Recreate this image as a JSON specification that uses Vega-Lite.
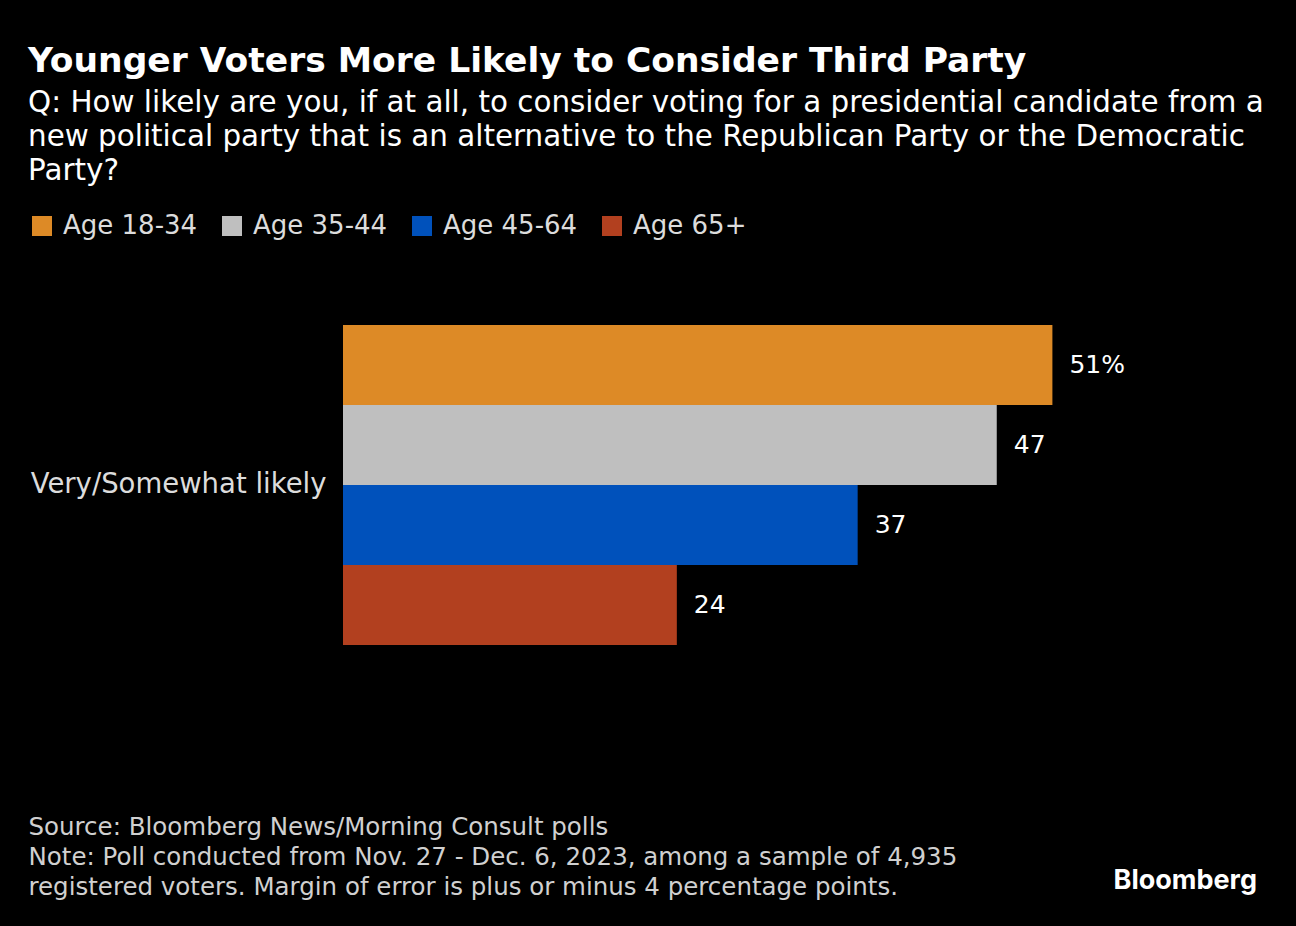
{
  "$schema": "https://vega.github.io/schema/vega-lite/v6.json",
  "autosize": {"type": "fit", "contains": "padding"},
  "width": 1296,
  "height": 926,
  "background": "#000000",
  "padding": {"top": 44, "left": 28, "right": 28, "bottom": 27},
  "title": {
    "text": "Younger Voters More Likely to Consider Third Party",
    "subtitle": [
      "Q: How likely are you, if at all, to consider voting for a presidential candidate from a",
      "new political party that is an alternative to the Republican Party or the Democratic",
      "Party?"
    ],
    "anchor": "start",
    "frame": "bounds",
    "font": "DejaVu Sans",
    "fontSize": 34.5,
    "fontWeight": "bold",
    "color": "#ffffff",
    "subtitleFont": "DejaVu Sans",
    "subtitleFontSize": 29.4,
    "subtitleColor": "#ffffff",
    "subtitleLineHeight": 34,
    "subtitlePadding": 9,
    "offset": 139
  },
  "config": {
    "view": {"stroke": null},
    "font": "DejaVu Sans"
  },
  "datasets": {
    "poll": [
      {"response": "Very/Somewhat likely", "age": "Age 18-34", "pct": 51, "label": "51%"},
      {"response": "Very/Somewhat likely", "age": "Age 35-44", "pct": 47, "label": "47"},
      {"response": "Very/Somewhat likely", "age": "Age 45-64", "pct": 37, "label": "37"},
      {"response": "Very/Somewhat likely", "age": "Age 65+", "pct": 24, "label": "24"}
    ],
    "logo": [{"name": "Bloomberg"}]
  },
  "layer": [
    {
      "data": {"name": "poll"},
      "mark": {"type": "bar"},
      "encoding": {
        "y": {
          "field": "response",
          "type": "nominal",
          "scale": {"paddingInner": 0, "paddingOuter": 0},
          "axis": {
            "title": null,
            "domain": false,
            "ticks": false,
            "labelFontSize": 27.5,
            "labelColor": "#dcdcdc",
            "labelPadding": 17,
            "labelLimit": 500,
            "labelFont": "DejaVu Sans"
          }
        },
        "yOffset": {
          "field": "age",
          "type": "nominal",
          "sort": ["Age 18-34", "Age 35-44", "Age 45-64", "Age 65+"],
          "scale": {"paddingInner": 0, "paddingOuter": 0}
        },
        "x": {
          "field": "pct",
          "type": "quantitative",
          "scale": {"domain": [0, 66.5], "nice": false, "zero": true},
          "axis": {
            "labels": false,
            "ticks": false,
            "domain": false,
            "grid": false,
            "title": [
              "Source: Bloomberg News/Morning Consult polls",
              "Note: Poll conducted from Nov. 27 - Dec. 6, 2023, among a sample of 4,935",
              "registered voters. Margin of error is plus or minus 4 percentage points."
            ],
            "titleFont": "DejaVu Sans",
            "titleFontSize": 24.5,
            "titleFontWeight": "normal",
            "titleColor": "#d0d0d0",
            "titleLineHeight": 30,
            "titleAnchor": "start",
            "titleAlign": "left",
            "titleBaseline": "top",
            "titleX": -315,
            "titlePadding": 170
          }
        },
        "color": {
          "field": "age",
          "type": "nominal",
          "sort": ["Age 18-34", "Age 35-44", "Age 45-64", "Age 65+"],
          "scale": {
            "domain": ["Age 18-34", "Age 35-44", "Age 45-64", "Age 65+"],
            "range": ["#DD8A26", "#BFBFBF", "#0051BB", "#B2401F"]
          },
          "legend": {
            "title": null,
            "orient": "none",
            "direction": "horizontal",
            "legendX": -314,
            "legendY": -112,
            "symbolType": "square",
            "symbolSize": 400,
            "symbolStrokeWidth": 0,
            "symbolOpacity": 1,
            "labelFontSize": 26,
            "labelColor": "#dcdcdc",
            "labelFont": "DejaVu Sans",
            "labelOffset": 8,
            "columnPadding": 21
          }
        }
      }
    },
    {
      "data": {"name": "poll"},
      "mark": {"type": "text", "align": "left", "baseline": "middle", "dx": 17, "fontSize": 25, "color": "#ffffff", "font": "DejaVu Sans"},
      "encoding": {
        "y": {"field": "response", "type": "nominal"},
        "yOffset": {"field": "age", "type": "nominal", "sort": ["Age 18-34", "Age 35-44", "Age 45-64", "Age 65+"]},
        "x": {"field": "pct", "type": "quantitative"},
        "text": {"field": "label"}
      }
    },
    {
      "data": {"name": "logo"},
      "mark": {"type": "text", "align": "right", "baseline": "middle", "fontSize": 27, "fontWeight": "bold", "color": "#ffffff", "font": "Inter", "x": {"expr": "width - 11"}, "y": {"expr": "height + 236"}},
      "encoding": {"text": {"field": "name"}}
    }
  ]
}
